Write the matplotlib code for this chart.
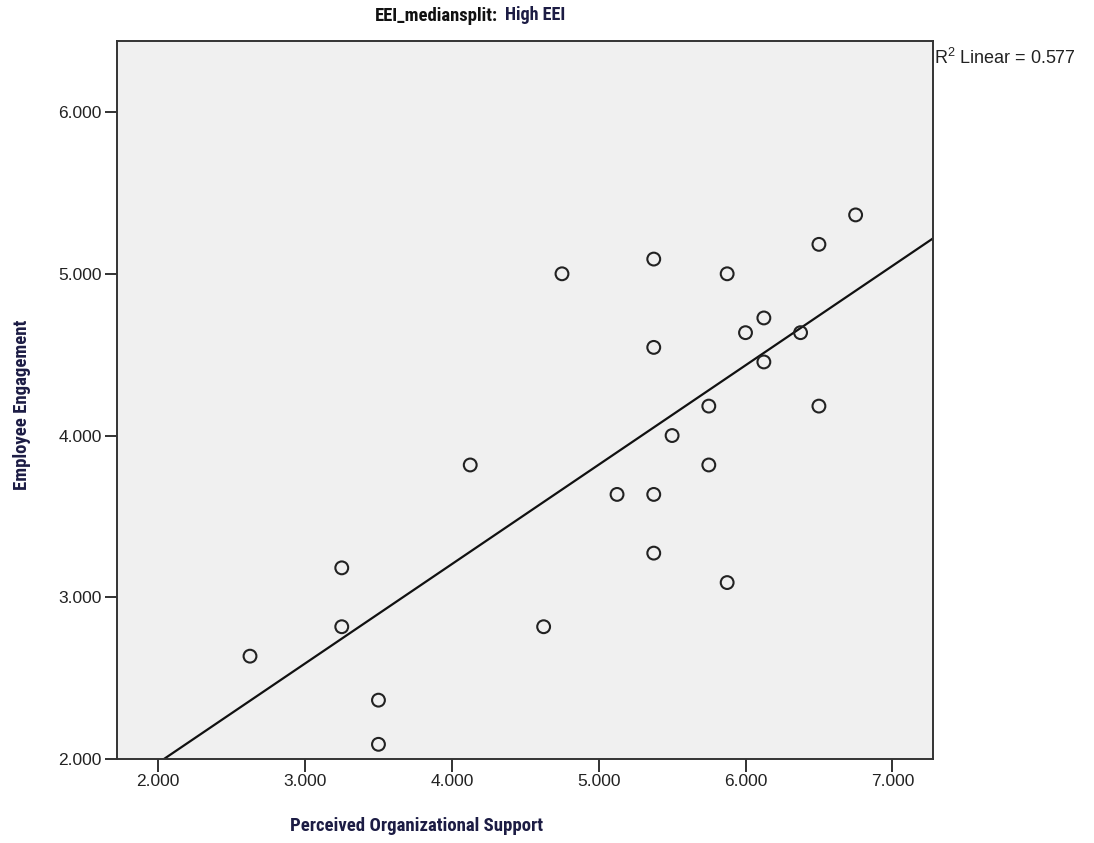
import numpy as np
import matplotlib
matplotlib.use("Agg")
import matplotlib.pyplot as plt
from matplotlib import font_manager

# Data
pos = [2.625, 3.25, 3.25, 3.5, 3.5, 4.125, 4.625, 4.75, 5.125, 5.375, 5.375,
       5.375, 5.375, 5.5, 5.75, 5.75, 5.875, 5.875, 6.0, 6.125, 6.125, 6.375,
       6.5, 6.5, 6.75]
eng = [2.636, 3.182, 2.818, 2.364, 2.091, 3.818, 2.818, 5.0, 3.636, 5.091, 4.545,
       3.636, 3.273, 4.0, 4.182, 3.818, 5.0, 3.091, 4.636, 4.727, 4.455, 4.636,
       5.182, 4.182, 5.364]
xticks = [2, 3, 4, 5, 6, 7]
yticks = [2, 3, 4, 5, 6]
r2_label = "R$^2$ Linear = 0.577"

plt.rcParams["font.family"] = ["Liberation Sans", "DejaVu Sans"]
plt.rcParams["mathtext.fontset"] = "custom"
plt.rcParams["mathtext.rm"] = "Liberation Sans"

# look for a narrow bold face (SPSS uses Arial Narrow bold for labels)
narrow_path = None
for want in ["Liberation Sans Narrow", "Arial Narrow", "Roboto Condensed",
             "Open Sans Condensed", "DejaVu Sans Condensed"]:
    for f in font_manager.fontManager.ttflist:
        if f.name == want and f.weight in ("bold", 700):
            narrow_path = f.fname
            break
    if narrow_path:
        break
if narrow_path is None:
    for f in font_manager.fontManager.ttflist:
        if f.stretch in ("condensed", "semi-condensed") and f.weight in ("bold", 700):
            narrow_path = f.fname
            break


def label_font(size):
    if narrow_path:
        return font_manager.FontProperties(fname=narrow_path, size=size)
    return font_manager.FontProperties(family="Liberation Sans", weight="bold", size=size)


navy = "#1c1c44"

fig = plt.figure(figsize=(10.94, 8.43), dpi=100)
ax = fig.add_axes([0.1072, 0.0996, 0.7459, 0.8521])
ax.set_facecolor("#f0f0f0")

ax.set_xlim(1.721, 7.279)
ax.set_ylim(2.0, 6.441)

# fit line
b, a = np.polyfit(pos, eng, 1)
xs = np.array(ax.get_xlim())
ax.plot(xs, a + b * xs, color="#111111", lw=1.6, zorder=2)

ax.scatter(pos, eng, s=85, facecolors="none", edgecolors="#222222",
           linewidths=1.5, zorder=3)

ax.set_xticks(xticks)
ax.set_yticks(yticks)
ax.set_xticklabels([f"{v:.3f}" for v in xticks])
ax.set_yticklabels([f"{v:.3f}" for v in yticks])
ax.tick_params(direction="out", length=9, width=1.3, labelsize=12.5,
               colors="#222222", pad=2)
for s in ax.spines.values():
    s.set_color("#333333")
    s.set_linewidth(1.4)

renderer = fig.canvas.get_renderer()


def fitted(x, y, text, width_px, **kw):
    t = fig.text(x, y, text, fontproperties=label_font(13), **kw)
    w = t.get_window_extent(renderer).width
    if kw.get("rotation"):
        w = t.get_window_extent(renderer).height
    t.set_fontproperties(label_font(13 * width_px / w))
    return t


# axis labels
xl = fitted(417 / 1094, 1 - 826 / 843, "Perceived Organizational Support", 252,
            ha="center", va="center", color=navy)
fig.text(22 / 1094, 1 - 405 / 843, "Employee Engagement", rotation=90,
         ha="center", va="center", fontproperties=xl.get_fontproperties(),
         color=navy)

# title
fitted(498 / 1094, 1 - 16 / 843, "EEI_mediansplit:", 123,
       ha="right", va="center", color="#111111")
fitted(505 / 1094, 1 - 15 / 843, "High EEI", 60,
       ha="left", va="center", color=navy)

fig.text(934 / 1094, 1 - 58 / 843, r2_label, ha="left", va="center",
         fontsize=13, color="#222222")

fig.savefig("out.png", dpi=100, facecolor="white")
